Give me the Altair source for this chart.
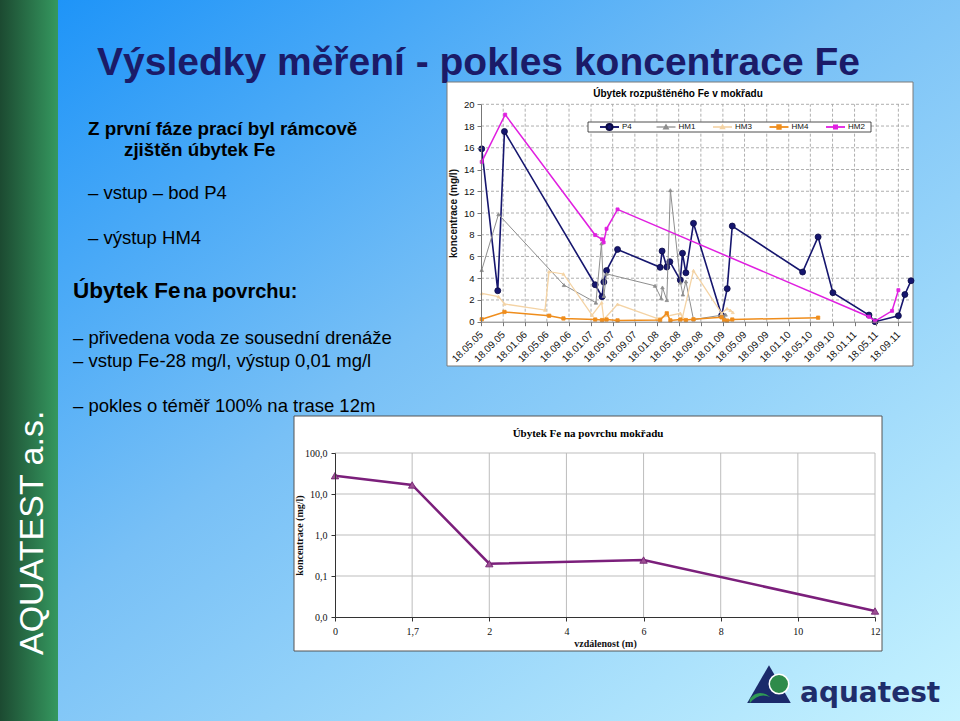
import altair as alt
import pandas as pd

# ------------------------------------------------------------------ data
series_names = ["P4", "HM1", "HM3", "HM4", "HM2"]

p4_dates = ["2005-05-22", "2005-08-19", "2005-09-25", "2007-02-10", "2007-03-20",
            "2007-03-30", "2007-04-14", "2007-06-14", "2008-02-05", "2008-02-16",
            "2008-03-13", "2008-03-30", "2008-05-27", "2008-06-08", "2008-06-27",
            "2008-08-08", "2009-01-11", "2009-02-11", "2009-03-11", "2010-04-05",
            "2010-06-30", "2010-09-20", "2011-04-08", "2011-05-12", "2011-09-18",
            "2011-10-24", "2011-11-27"]
p4_values = [15.9, 2.85, 17.5, 3.4, 2.3, 3.65, 4.7, 6.65, 5.0, 6.5, 5.03, 5.52,
             3.83, 6.3, 4.5, 9.05, 0.58, 3.04, 8.8, 4.57, 7.8, 2.67, 0.61, 0.0,
             0.55, 2.5, 3.77]

hm1_dates = ["2005-05-22", "2005-08-23", "2006-08-21", "2007-02-14", "2007-03-17",
             "2007-03-30", "2007-04-14", "2008-01-08", "2008-02-11", "2008-02-18",
             "2008-03-13", "2008-04-02", "2008-05-28", "2008-06-10", "2008-06-27",
             "2008-08-08", "2009-01-11", "2009-01-22", "2009-02-02"]
hm1_values = [4.75, 9.88, 3.37, 1.75, 7.2, 2.36, 4.4, 3.3, 2.15, 3.15, 1.99, 12.1,
              3.6, 2.5, 3.7, 0.2, 0.6, 0.45, 0.65]

hm3_dates = ["2005-05-22", "2005-08-23", "2005-09-25", "2006-05-08", "2006-05-30",
             "2006-08-18", "2007-01-24", "2007-03-18", "2007-03-30", "2007-06-14",
             "2008-01-18", "2008-05-27", "2008-06-08", "2008-08-08", "2009-01-11",
             "2009-02-10", "2009-02-28", "2009-03-14"]
hm3_values = [2.6, 2.3, 1.63, 1.07, 4.6, 4.39, 0.6, 1.75, 0.2, 1.6, 0.3, 0.77, 0.4,
              4.7, 0.77, 1.2, 1.05, 0.86]

hm4_dates = ["2005-05-22", "2005-09-25", "2006-05-31", "2006-08-18", "2007-02-10",
             "2007-03-20", "2007-04-14", "2007-06-14", "2008-02-05", "2008-03-13",
             "2008-04-02", "2008-05-27", "2008-06-27", "2008-08-08", "2009-01-11",
             "2009-01-25", "2009-02-11", "2009-03-11", "2010-06-30"]
hm4_values = [0.22, 0.9, 0.55, 0.3, 0.2, 0.15, 0.2, 0.12, 0.15, 0.77, 0.12, 0.2,
              0.15, 0.22, 0.4, 0.15, 0.1, 0.2, 0.37]

hm2_dates = ["2005-05-22", "2005-09-29", "2007-02-10", "2007-03-20", "2007-03-29",
             "2007-04-14", "2007-06-14", "2011-04-08", "2011-05-12", "2011-08-14",
             "2011-09-18"]
hm2_values = [14.7, 19.05, 7.97, 7.58, 7.3, 8.55, 10.33, 0.46, 0.05, 1.0, 2.9]

x_start = "2005-05-18"
x_end = "2011-11-27"
tick_dates = ["2005-05-18", "2005-09-18", "2006-01-18", "2006-05-18", "2006-09-18",
              "2007-01-18", "2007-05-18", "2007-09-18", "2008-01-18", "2008-05-18",
              "2008-09-18", "2009-01-18", "2009-05-18", "2009-09-18", "2010-01-18",
              "2010-05-18", "2010-09-18", "2011-01-18", "2011-05-18", "2011-09-18"]
y_ticks = [0, 2, 4, 6, 8, 10, 12, 14, 16, 18, 20]

dist_labels = ["0", "1,7", "2", "4", "6", "8", "10", "12"]
meas_dist = ["0", "1,7", "2", "6", "12"]
meas_values = [28.0, 16.6, 0.2, 0.245, 0.014]
log_ticks = [0.01, 0.1, 1, 10, 100]

series_data = {
    "P4": (p4_dates, p4_values),
    "HM1": (hm1_dates, hm1_values),
    "HM3": (hm3_dates, hm3_values),
    "HM4": (hm4_dates, hm4_values),
    "HM2": (hm2_dates, hm2_values),
}

# ------------------------------------------------------------------ styles
styles = {
    "P4": dict(color="#16166e", width=1.6, shape="circle", size=36, stroke="#0a0a45"),
    "HM1": dict(color="#8e8e8e", width=1.0, shape="triangle-up", size=12, stroke="#8e8e8e"),
    "HM3": dict(color="#f4d3a4", width=1.3, shape="triangle-up", size=9, stroke="#f4d3a4"),
    "HM4": dict(color="#ef8d1c", width=1.5, shape="square", size=11, stroke="#ef8d1c"),
    "HM2": dict(color="#e020e0", width=1.5, shape="square", size=9, stroke="#e020e0"),
}

# the page margin is removed through vega-embed's style option
W, H = 960, 721
M = 0


def px(v):
    return v - M


def py(v):
    return v - M


one = pd.DataFrame({"k": [0]})
SANS = "Liberation Sans"
SERIF = "Liberation Serif"


def text_layer(text, x, y, size, weight="normal", color="black", align="left",
               font=SANS, angle=None, baseline="alphabetic"):
    kw = dict(text=text, fontSize=size, fontWeight=weight, color=color,
              align=align, font=font, baseline=baseline)
    if angle is not None:
        kw["angle"] = angle
    return alt.Chart(one).mark_text(**kw).encode(x=alt.value(px(x)), y=alt.value(py(y)))


def rect_layer(x0, y0, x1, y1, **kw):
    return alt.Chart(one).mark_rect(**kw).encode(
        x=alt.value(px(x0)), x2=alt.value(px(x1)),
        y=alt.value(py(y0)), y2=alt.value(py(y1)))


def dt(s):
    y, m, d = map(int, s.split("-"))
    return alt.DateTime(year=y, month=m, date=d)


# ------------------------------------------------------------------ slide background
bg = rect_layer(0, 0, 960, 721, strokeWidth=0, fill=alt.LinearGradient(
    gradient="linear", x1=0, y1=0, x2=1, y2=1,
    stops=[alt.GradientStop(offset=0, color="#1891f8"),
           alt.GradientStop(offset=0.45, color="#78c0f6"),
           alt.GradientStop(offset=1, color="#c6f3ff")]))
strip = rect_layer(0, 0, 58, 721, strokeWidth=0, fill=alt.LinearGradient(
    gradient="linear", x1=0, y1=0, x2=1, y2=0,
    stops=[alt.GradientStop(offset=0, color="#1c4a31"),
           alt.GradientStop(offset=1, color="#35985f")]))

texts = [
    text_layer("AQUATEST a.s.", 43, 655, 34, color="white", angle=270),
    text_layer("Výsledky měření - pokles koncentrace Fe", 97, 75, 39, weight="bold", color="#1b1b68"),
    text_layer("Z první fáze prací byl rámcově", 88, 135, 18.8, weight="bold"),
    text_layer("zjištěn úbytek Fe", 124, 156, 18.8, weight="bold"),
    text_layer("– vstup – bod P4", 88, 199, 18.5),
    text_layer("– výstup HM4", 88, 244, 18.5),
    text_layer("Úbytek Fe", 73, 298, 22.5, weight="bold"),
    text_layer("na povrchu:", 183, 298, 20, weight="bold"),
    text_layer("– přivedena voda ze sousední drenáže", 73, 344, 18.5),
    text_layer("– vstup Fe-28 mg/l, výstup 0,01 mg/l", 73, 367, 18.5),
    text_layer("– pokles o téměř 100% na trase 12m", 73, 412, 18.5),
]

# ------------------------------------------------------------------ chart 1
frame1 = rect_layer(447, 82, 913, 366, fill="white", stroke="#7a7a7a", strokeWidth=1)
title1 = text_layer("Úbytek rozpuštěného Fe v mokřadu", 678, 97, 10, weight="bold", align="center")

sx1 = alt.Scale(domain=[dt(x_start), dt(x_end)], range=[px(481), px(911)], nice=False)
sy1 = alt.Scale(domain=[0, 20], range=[py(321.7), py(104.3)], nice=False)

ax1x = alt.Axis(orient="bottom", offset=py(321.7) - H, values=[dt(t) for t in tick_dates],
                format="%d.%m.%y", labelAngle=315, labelAlign="right", labelBaseline="middle",
                labelFontSize=10, labelFont=SANS, labelColor="#111", labelOverlap=False,
                labelFlush=False, labelPadding=7, tickSize=4, tickColor="#777",
                domainColor="#777", title=None, grid=False, zindex=2)
ax1y = alt.Axis(orient="left", offset=-px(481), values=y_ticks, labelFontSize=9.5,
                labelFont=SANS, labelColor="#111", labelPadding=3, labelFlush=False,
                tickSize=4, tickColor="#777", domainColor="#777",
                title="koncentrace (mg/l)", titleFont=SANS, titleFontSize=10,
                titleFontWeight="bold", titleColor="#111", titlePadding=5, grid=False,
                zindex=2)

hgrid1 = pd.DataFrame({"v": y_ticks[1:], "a": pd.to_datetime(x_start), "b": pd.to_datetime(x_end)})
vgrid1 = pd.DataFrame({"t": pd.to_datetime(tick_dates[1:]), "lo": 0, "hi": 20})


def X1(field):
    return alt.X(field, type="temporal", scale=sx1, axis=ax1x)


def Y1(field):
    return alt.Y(field, type="quantitative", scale=sy1, axis=ax1y)


c1_layers = [
    alt.Chart(hgrid1).mark_rule(color="#9a9a9a", strokeWidth=0.8, strokeDash=[3, 2]).encode(
        x=X1("a"), x2="b:T", y=Y1("v")),
    alt.Chart(vgrid1).mark_rule(color="#9a9a9a", strokeWidth=0.8, strokeDash=[3, 2]).encode(
        x=X1("t"), y=Y1("lo"), y2="hi:Q"),
]
for name in series_names:
    d, v = series_data[name]
    st = styles[name]
    df = pd.DataFrame({"date": pd.to_datetime(d), "value": v})
    base = alt.Chart(df).encode(x=X1("date"), y=Y1("value"))
    c1_layers.append(base.mark_line(color=st["color"], strokeWidth=st["width"]))
    c1_layers.append(base.mark_point(shape=st["shape"], filled=True, fill=st["color"],
                                     stroke=st["stroke"], strokeWidth=0.8,
                                     size=st["size"], opacity=1))
chart1 = alt.layer(*c1_layers)

# legend of chart 1
legend_layers = [rect_layer(588, 122, 871, 132, fill="white", stroke="#222", strokeWidth=0.8)]
for i, name in enumerate(series_names):
    st = styles[name]
    x0 = 600 + i * 56.5
    legend_layers.append(
        alt.Chart(one).mark_rule(color=st["color"], strokeWidth=st["width"] + 0.3).encode(
            x=alt.value(px(x0)), x2=alt.value(px(x0 + 19)), y=alt.value(py(127))))
    legend_layers.append(
        alt.Chart(one).mark_point(shape=st["shape"], filled=True, fill=st["color"],
                                  stroke=st["stroke"], size=st["size"], opacity=1).encode(
            x=alt.value(px(x0 + 9.5)), y=alt.value(py(127))))
    legend_layers.append(text_layer(name, x0 + 22, 127, 8, baseline="middle", color="#111"))

# ------------------------------------------------------------------ chart 2
frame2 = rect_layer(294, 416, 882, 651, fill="white", stroke="#555", strokeWidth=1)
title2 = text_layer("Úbytek Fe na povrchu mokřadu", 588, 437, 11, weight="bold",
                    align="center", font=SERIF)

sx2 = alt.Scale(type="point", domain=dist_labels, range=[px(335), px(875)], padding=0)
sy2 = alt.Scale(type="log", domain=[0.01, 100], range=[py(617), py(453)], nice=False)

ax2x = alt.Axis(orient="bottom", offset=py(617) - H, labelFont=SERIF, labelFontSize=10,
                labelAngle=0, labelColor="#111", labelPadding=5, tickSize=4,
                tickColor="#333", domainColor="#333", title="vzdálenost (m)",
                titleFont=SERIF, titleFontSize=10, titleFontWeight="bold",
                titleColor="#111", titlePadding=2, grid=False, zindex=2)
ax2y = alt.Axis(orient="left", offset=-px(335), values=log_ticks,
                labelExpr="replace(format(datum.value, '.1f'), '.', ',')",
                labelFont=SERIF, labelFontSize=10, labelColor="#111", labelPadding=4,
                labelFlush=False, tickSize=4, tickColor="#333", domainColor="#333",
                title="koncentrace  (mg/l)", titleFont=SERIF, titleFontSize=10,
                titleFontWeight="bold", titleColor="#111", titlePadding=0, grid=False,
                zindex=2)


def X2(field):
    return alt.X(field, type="ordinal", scale=sx2, axis=ax2x, sort=dist_labels)


def Y2(field):
    return alt.Y(field, type="quantitative", scale=sy2, axis=ax2y)


hgrid2 = pd.DataFrame({"v": log_ticks[1:], "a": dist_labels[0], "b": dist_labels[-1]})
vgrid2 = pd.DataFrame({"d": dist_labels[1:], "lo": log_ticks[0], "hi": log_ticks[-1]})
meas2 = pd.DataFrame({"d": meas_dist, "v": meas_values, "i": list(range(len(meas_dist)))})

chart2 = alt.layer(
    alt.Chart(hgrid2).mark_rule(color="#bdbdbd", strokeWidth=1).encode(
        x=X2("a"), x2="b", y=Y2("v")),
    alt.Chart(vgrid2).mark_rule(color="#bdbdbd", strokeWidth=1).encode(
        x=X2("d"), y=Y2("lo"), y2="hi:Q"),
    alt.Chart(meas2).mark_line(color="#7b1f7b", strokeWidth=2.5).encode(
        x=X2("d"), y=Y2("v"), order="i:Q"),
    alt.Chart(meas2).mark_point(shape="triangle-up", filled=True, fill="#9d4f93",
                                stroke="#6c1c6c", strokeWidth=0.8, size=55, opacity=1).encode(
        x=X2("d"), y=Y2("v")),
)

# ------------------------------------------------------------------ logo
logo = [
    alt.Chart(one).mark_point(shape="triangle-up", filled=True, fill="#1b2a6b",
                              size=1900, opacity=1).encode(
        x=alt.value(px(769)), y=alt.value(py(684))),
    alt.Chart(one).mark_point(shape="M -1 0.5 Q -0.2 -0.6 1 0.3 Q -0.1 -0.2 -1 0.9 Z",
                              filled=True, fill="#2f9a55", size=420, opacity=1).encode(
        x=alt.value(px(760)), y=alt.value(py(694))),
    alt.Chart(one).mark_point(shape="circle", filled=True, fill="#2e8b4a", stroke="white",
                              strokeWidth=1.5, size=380, opacity=1).encode(
        x=alt.value(px(779)), y=alt.value(py(684))),
    text_layer("aquatest", 800, 702, 28, weight="bold", color="#1f2d6b", font="DejaVu Sans"),
]

chart = alt.layer(
    bg, strip, *texts,
    frame1, title1, chart1, *legend_layers,
    frame2, title2, chart2,
    *logo,
).resolve_scale(x="independent", y="independent").resolve_axis(
    x="independent", y="independent"
).properties(
    width=W, height=H, padding=0, autosize=alt.AutoSizeParams(type="none")
).configure_view(stroke=None)

chart.save("out.html", embed_options={
    "renderer": "svg", "actions": False,
    "defaultStyle": "html, body { margin: 0; padding: 0; overflow: hidden; } "
                    ".vega-embed { display: block; }",
})
